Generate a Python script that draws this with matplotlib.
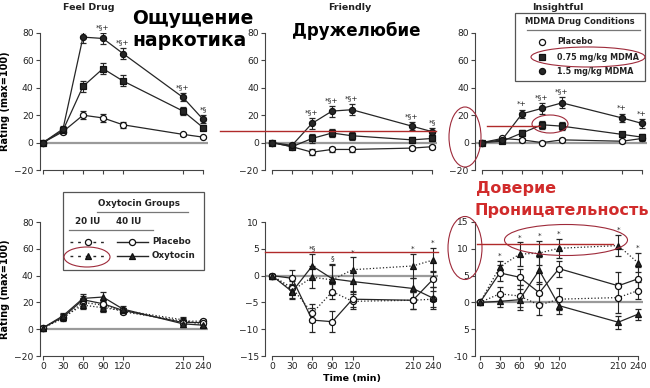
import matplotlib
matplotlib.use('Agg')
import matplotlib.pyplot as plt
from matplotlib.patches import Ellipse, Rectangle
import numpy as np

plt.rcParams['font.family'] = ['DejaVu Sans']

W, H = 650, 388

# ---------------- data ----------------
times = [0, 30, 60, 90, 120, 210, 240]
time_labels = ['0', '30', '60', '90', '120', '210', '240']

# MDMA drug conditions (top row)
feel_pl = [0, 8, 20, 18, 13, 6, 4]
feel_pl_err = [1, 1.5, 3, 3, 2, 1, 1]
feel_075 = [0, 9, 41, 54, 45, 23, 11]
feel_075_err = [1, 2, 4, 4, 4, 3, 2]
feel_15 = [0, 10, 77, 76, 65, 33, 17]
feel_15_err = [1, 2, 4, 4, 4, 3, 3]
feel_sig = ['', '', '*§+', '*§+', '*§+', '*§+', '*§']

friendly_pl = [0, -3, -7, -5, -5, -4, -3]
friendly_pl_err = [1, 1.5, 2, 1.5, 1.5, 1.5, 1.5]
friendly_075 = [0, -3, 3, 7, 5, 2, 3]
friendly_075_err = [1, 2, 3, 3, 3, 2, 2]
friendly_15 = [0, -2, 14, 23, 24, 12, 8]
friendly_15_err = [1, 2, 4, 4, 4, 3, 3]
friendly_sig = ['', '', '*§+', '*§+', '*§+', '*§+', '*§']

insight_pl = [0, 3, 2, 0, 2, 1, 3]
insight_pl_err = [1, 1, 1.5, 1, 1.5, 1, 1.5]
insight_075 = [0, 1, 7, 13, 12, 6, 4]
insight_075_err = [1, 1.5, 2, 3, 3, 2, 2]
insight_15 = [0, 2, 21, 25, 29, 18, 14]
insight_15_err = [1, 1.5, 3, 4, 4, 3, 3]
insight_sig = ['', '', '*+', '*§+', '*§+', '*+', '*+']

# Oxytocin groups (bottom row)
ofeel_pl40 = [1, 9, 22, 19, 14, 5, 5]
ofeel_pl40_err = [1, 2, 3, 3, 2, 2, 1.5]
ofeel_ox40 = [1, 10, 23, 24, 15, 4, 3]
ofeel_ox40_err = [1, 2, 3.5, 3.5, 2, 2, 1.5]
ofeel_pl20 = [1, 8, 20, 18, 13, 6, 6]
ofeel_pl20_err = [1, 2, 3, 3, 2, 2, 1.5]
ofeel_ox20 = [1, 9, 18, 16, 14, 7, 3]
ofeel_ox20_err = [1, 2, 3, 3, 2, 2, 1.5]

ofr_pl40 = [0, -0.5, -8.3, -8.6, -4.4, -4.6, -0.7]
ofr_pl40_err = [0.3, 1.5, 2.2, 2.0, 1.5, 1.6, 1.5]
ofr_ox40 = [0, -3.0, 1.8, -0.6, -1.1, -2.4, -4.2]
ofr_ox40_err = [0.3, 1.3, 2.3, 2.8, 2.0, 2.0, 2.0]
ofr_pl20 = [0, -2.3, -7.0, -3.0, -4.8, -4.6, -4.4]
ofr_pl20_err = [0.3, 1.2, 1.7, 1.4, 1.4, 1.6, 1.5]
ofr_ox20 = [0, -2.8, -0.3, -0.8, 1.1, 1.8, 2.9]
ofr_ox20_err = [0.3, 1.3, 2.0, 2.8, 2.3, 2.3, 2.2]
ofr_sig = ['', '', '*§', '§', '*', '*', '*']

oin_pl40 = [0, 5.5, 4.7, 1.8, 6.3, 3.1, 4.4]
oin_pl40_err = [0.3, 1.5, 1.5, 2.0, 1.5, 2.5, 2.2]
oin_ox40 = [0, 0.2, 0.5, 6.0, -0.6, -3.7, -2.2]
oin_ox40_err = [0.3, 1.0, 2.0, 2.5, 1.6, 1.2, 1.0]
oin_pl20 = [0, 1.6, 1.2, -0.5, 0.6, 0.9, 2.2]
oin_pl20_err = [0.3, 1.3, 2.0, 1.8, 2.0, 2.8, 1.6]
oin_ox20 = [0, 6.6, 9.0, 9.2, 10.1, 10.6, 7.4]
oin_ox20_err = [0.3, 1.2, 2.2, 2.2, 1.8, 2.0, 1.8]
oin_sig = ['', '*', '*', '*', '*', '*', '*']

titles = ['Feel Drug', 'Friendly', 'Insightful']
ylabel = 'Rating (max=100)'
xlabel = 'Time (min)'
mdma_legend_title = 'MDMA Drug Conditions'
mdma_labels = ['Placebo', '0.75 mg/kg MDMA', '1.5 mg/kg MDMA']
oxy_legend_title = 'Oxytocin Groups'
oxy_dose_labels = ['20 IU', '40 IU']
oxy_labels = ['Placebo', 'Oxytocin']

# ---------------- figure ----------------
fig = plt.figure(figsize=(W / 100, H / 100), dpi=100)
fig.patch.set_facecolor('white')

DARK = '#262626'
MS_O = 4.4
MS_T = 5.0


def make_ax(spine_px, p0, p240, top_px, bot_px, xmax=248):
    s = (p240 - p0) / 240.0
    xmin = -(p0 - spine_px) / s
    right_px = p0 + xmax * s
    ax = fig.add_axes([spine_px / W, 1 - bot_px / H,
                       (right_px - spine_px) / W, (bot_px - top_px) / H])
    ax.set_xlim(xmin, xmax)
    ax.patch.set_alpha(0)
    return ax


def style_ax(ax, ylim, yticks, show_xlabels, yticklabels=None):
    ax.set_ylim(*ylim)
    ax.set_yticks(yticks)
    if yticklabels is not None:
        ax.set_yticklabels(yticklabels)
    ax.set_xticks(times)
    ax.set_xticklabels(time_labels if show_xlabels else [])
    for sp in ['top', 'right']:
        ax.spines[sp].set_visible(False)
    ax.spines['left'].set_bounds(ylim[0], ylim[1])
    ax.spines['bottom'].set_bounds(0, 240)
    for sp in ['left', 'bottom']:
        ax.spines[sp].set_color('#444444')
        ax.spines[sp].set_linewidth(0.8)
    ax.tick_params(axis='both', length=3, width=0.8, color='#444444',
                   labelsize=6.6, pad=1.5, labelcolor='#222222')
    ax.axhline(0, color='#9a9a9a', lw=1.6, zorder=1)


def series(ax, y, err, marker, filled, ls='-', ms=MS_O):
    ax.errorbar(times, y, yerr=err, color=DARK, lw=0.9, ls=ls,
                marker=marker, ms=ms, mfc=DARK if filled else 'white',
                mec='#111111', mew=0.9, ecolor=DARK, elinewidth=0.8,
                capsize=2.0, capthick=0.8, zorder=3)


def sig(ax, labels, groups, size=5.3, off=2):
    for i, lab in enumerate(labels):
        if not lab:
            continue
        top = max(g[0][i] + g[1][i] for g in groups)
        ax.annotate(lab, (times[i], top), xytext=(0, off), textcoords='offset points',
                    ha='center', va='bottom', fontsize=size, color='#222222')


# ---- top row ----
top_t, top_b = 33, 170
ax1 = make_ax(40, 43, 203, top_t, top_b)
ax2 = make_ax(265, 272, 432, top_t, top_b)
ax3 = make_ax(475, 482, 642, top_t, top_b)
top_data = [
    (ax1, (feel_pl, feel_pl_err), (feel_075, feel_075_err), (feel_15, feel_15_err), feel_sig),
    (ax2, (friendly_pl, friendly_pl_err), (friendly_075, friendly_075_err), (friendly_15, friendly_15_err), friendly_sig),
    (ax3, (insight_pl, insight_pl_err), (insight_075, insight_075_err), (insight_15, insight_15_err), insight_sig),
]
for ax, pl, d075, d15, sg in top_data:
    style_ax(ax, (-20, 80), [-20, 0, 20, 40, 60, 80], False)
    series(ax, pl[0], pl[1], 'o', False)
    series(ax, d075[0], d075[1], 's', True)
    series(ax, d15[0], d15[1], 'o', True)
    sig(ax, sg, [pl, d075, d15])
ax1.set_ylabel(ylabel, fontsize=7, fontweight='bold', labelpad=3)

# ---- bottom row ----
bt, bb = 222, 356
ax4 = make_ax(40, 43, 203, bt, bb)
ax5 = make_ax(265, 272, 433, bt, bb)
ax6 = make_ax(475, 480, 638, bt, bb)
style_ax(ax4, (-20, 80), [-20, 0, 20, 40, 60, 80], True)
style_ax(ax5, (-15, 10), [-15, -10, -5, 0, 5, 10], True)
style_ax(ax6, (-10, 15), [-10, -5, 0, 5, 10, 15], True,
         yticklabels=['-10', '5', '0', '5', '10', '15'])
bottom_data = [
    (ax4, (ofeel_pl40, ofeel_pl40_err), (ofeel_ox40, ofeel_ox40_err),
     (ofeel_pl20, ofeel_pl20_err), (ofeel_ox20, ofeel_ox20_err), None),
    (ax5, (ofr_pl40, ofr_pl40_err), (ofr_ox40, ofr_ox40_err),
     (ofr_pl20, ofr_pl20_err), (ofr_ox20, ofr_ox20_err), ofr_sig),
    (ax6, (oin_pl40, oin_pl40_err), (oin_ox40, oin_ox40_err),
     (oin_pl20, oin_pl20_err), (oin_ox20, oin_ox20_err), oin_sig),
]
for ax, p40, o40, p20, o20, sg in bottom_data:
    series(ax, p20[0], p20[1], 'o', False, ls=':')
    series(ax, o20[0], o20[1], '^', True, ls=':', ms=MS_T)
    series(ax, p40[0], p40[1], 'o', False)
    series(ax, o40[0], o40[1], '^', True, ms=MS_T)
    if sg:
        sig(ax, sg, [p40, o40, p20, o20], off=1.5)
ax4.set_ylabel(ylabel, fontsize=7, fontweight='bold', labelpad=3)
ax5.set_xlabel(xlabel, fontsize=6.8, fontweight='bold', labelpad=2)

# ---------------- overlay (legends, titles, annotations) ----------------
ov = fig.add_axes([0, 0, 1, 1], zorder=10)
ov.set_xlim(0, W)
ov.set_ylim(H, 0)
ov.axis('off')
ov.patch.set_alpha(0)

for x, t in zip([89, 350, 558], titles):
    ov.text(x, 7, t, ha='center', va='center', fontsize=6.8, fontweight='bold', color='#222222')

# MDMA legend
ov.add_patch(Rectangle((515, 13), 130, 68, fill=False, ec='#555555', lw=0.9))
ov.text(580, 21, mdma_legend_title, ha='center', va='center', fontsize=6, fontweight='bold', color='#222222')
ov.plot([527, 640], [30, 30], color='#777777', lw=0.9)
for yy, lab, mk, fc in zip([42, 57, 71], mdma_labels, ['o', 's', 'o'], ['white', DARK, DARK]):
    ov.plot([542], [yy], marker=mk, ms=MS_O, mfc=fc, mec='#111111', mew=0.9, ls='none')
    ov.text(557, yy, lab, ha='left', va='center', fontsize=5.8, fontweight='bold', color='#222222')

# Oxytocin legend
ov.add_patch(Rectangle((63, 192), 141, 78, fill=False, ec='#555555', lw=0.9))
ov.text(139, 203, oxy_legend_title, ha='center', va='center', fontsize=6.3, fontweight='bold', color='#222222')
ov.plot([97, 188], [212, 212], color='#777777', lw=0.9)
ov.text(88, 222, oxy_dose_labels[0], ha='center', va='center', fontsize=6.3, fontweight='bold', color='#222222')
ov.text(129, 222, oxy_dose_labels[1], ha='center', va='center', fontsize=6.3, fontweight='bold', color='#222222')
ov.plot([69, 153], [230, 230], color='#777777', lw=0.9)
for yy, lab, mk in zip([242, 256], oxy_labels, ['o', '^']):
    filled = mk == '^'
    ms = MS_O if mk == 'o' else MS_T
    ov.plot([70, 107], [yy, yy], color=DARK, lw=1.0, ls=(0, (2, 3.5)))
    ov.plot([88], [yy], marker=mk, ms=ms, mfc=DARK if filled else 'white',
            mec='#111111', mew=0.9, ls='none')
    ov.plot([117, 148], [yy, yy], color=DARK, lw=1.0)
    ov.plot([132], [yy], marker=mk, ms=ms, mfc=DARK if filled else 'white',
            mec='#111111', mew=0.9, ls='none')
    ov.text(152, yy, lab, ha='left', va='center', fontsize=6.3, fontweight='bold', color='#222222')

# Russian annotations
ov.text(132, 19, 'Ощущение', ha='left', va='center', fontsize=13.5, fontweight='bold', color='black')
ov.text(132, 41, 'наркотика', ha='left', va='center', fontsize=13.5, fontweight='bold', color='black')
ov.text(356, 31, 'Дружелюбие', ha='center', va='center', fontsize=12, fontweight='bold', color='black')
RED = '#d12b2b'
ov.text(476, 189, 'Доверие', ha='left', va='center', fontsize=11.5, fontweight='bold', color=RED)
ov.text(475, 210, 'Проницательность', ha='left', va='center', fontsize=11.5, fontweight='bold', color=RED)

# red guide lines
LRED = '#b02a2a'
ov.plot([220, 436], [131, 131], color=LRED, lw=1.0)
ov.plot([487, 540], [126, 126], color=LRED, lw=1.0)
ov.plot([265, 438], [252, 252], color=LRED, lw=1.0)
ov.plot([477, 613], [244, 244], color=LRED, lw=1.0)

# red ellipses
ECOL = '#9e2a3a'
for cx, cy, w, h in [(465, 137, 32, 60), (550, 124, 36, 18), (588, 57, 114, 20),
                     (87, 257, 46, 20), (465, 248, 34, 63), (566, 240, 123, 31)]:
    ov.add_patch(Ellipse((cx, cy), w, h, fill=False, ec=ECOL, lw=0.8))

fig.savefig('out.png', dpi=100, facecolor='white')
